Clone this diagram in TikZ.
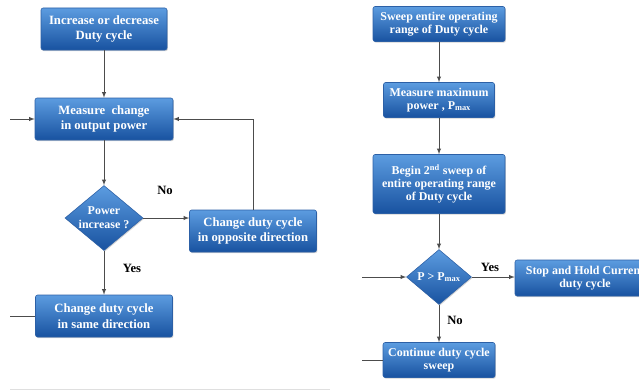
\documentclass[tikz,border=0pt]{standalone}
\usepackage{fontspec}
\setmainfont{Liberation Serif}
\usetikzlibrary{shapes.geometric,shadows}
\definecolor{boxtop}{RGB}{92,156,224}
\definecolor{boxbot}{RGB}{24,82,160}
\definecolor{boxedge}{RGB}{44,96,166}

\begin{document}
\begin{tikzpicture}[
    block/.style={rectangle, rounded corners=1.5pt, draw=boxedge, top color=boxtop, bottom color=boxbot, text=white, font=\fontsize{9}{11}\selectfont\bfseries, align=center, inner xsep=1pt, inner ysep=1pt, drop shadow={shadow xshift=0.6pt, shadow yshift=-0.8pt, opacity=0.35}},
    small/.style={font=\fontsize{8.5}{9.5}\selectfont\bfseries},
    decision/.style={diamond, draw=boxedge, top color=boxtop, bottom color=boxbot, inner sep=0pt, drop shadow={shadow xshift=0.6pt, shadow yshift=-0.8pt, opacity=0.35}},
    decision text/.style={text=white, font=\fontsize{8.5}{10}\selectfont\bfseries, align=center, inner sep=0pt},
    answer/.style={font=\fontsize{9}{11}\selectfont\bfseries},
    arrow/.style={->, >=latex, draw=black!70},
    wire/.style={draw=black!70}
]
    \useasboundingbox (0,0) rectangle (15.975,9.775);
    \clip (0,0) rectangle (15.975,9.775);

    % left chart
    \node[block, minimum width=3.15cm, minimum height=1.05cm] (inc) at (2.6,9.05) {Increase or decrease\\Duty cycle};
    \node[block, minimum width=3.45cm, minimum height=1.05cm] (meas) at (2.6,6.8) {Measure\ \ change\\in output power};
    \node[decision, minimum width=1.95cm, minimum height=1.625cm] (pinc) at (2.6,4.325) {};
    \node[decision text] (pinctxt) at (pinc) {Power\\increase ?};
    \node[block, minimum width=3.175cm, minimum height=1.05cm] (opp) at (6.325,4.0) {Change duty cycle\\in opposite direction};
    \node[block, minimum width=3.425cm, minimum height=1.05cm] (same) at (2.6,1.875) {Change duty cycle\\in same direction};
    \coordinate (lin) at (0.25,6.8);
    \coordinate (lout) at (0.25,1.875);

    \node[answer] (lno) at (4.125,5.025) {No};
    \node[answer] (lyes) at (3.3,3.075) {Yes};

    \draw[arrow] (inc) -- (meas);
    \draw[arrow] (lin) -- (meas);
    \draw[arrow] (meas) -- (pinc);
    \draw[arrow] (pinc.east) -- (pinc.east -| opp.west);
    \draw[arrow] (opp.north) |- (meas.east);
    \draw[arrow] (pinc) -- (same);
    \draw[wire] (same) -- (lout);

    % right chart
    \node[block, small, minimum width=3.3cm, minimum height=0.875cm] (sweep) at (10.975,9.175) {Sweep entire operating\\range of Duty cycle};
    \node[block, small, minimum width=2.775cm, minimum height=0.875cm] (pmax) at (10.975,7.275) {Measure maximum\\power , P\textsubscript{max}};
    \node[block, small, minimum width=3.3cm, minimum height=1.475cm] (begin) at (10.975,5.175) {Begin 2\textsuperscript{nd} sweep of\\entire operating range\\of Duty cycle};
    \node[decision, minimum width=1.625cm, minimum height=1.375cm] (pcmp) at (10.975,2.85) {};
    \node[decision text] (pcmptxt) at (pcmp) {P > P\textsubscript{max}};
    \node[block, small, minimum width=3.5cm, minimum height=0.9cm] (stop) at (14.625,2.825) {Stop and Hold Current\\duty cycle};
    \node[block, small, minimum width=2.8cm, minimum height=0.875cm] (cont) at (10.975,0.775) {Continue duty cycle\\sweep};
    \coordinate (rin) at (9.05,2.85);
    \coordinate (rout) at (9.05,0.775);

    \node[answer] (ryes) at (12.25,3.1) {Yes};
    \node[answer] (rno) at (11.375,1.775) {No};

    \draw[arrow] (sweep) -- (pmax);
    \draw[arrow] (pmax) -- (begin);
    \draw[arrow] (begin) -- (pcmp);
    \draw[arrow] (rin) -- (pcmp);
    \draw[arrow] (pcmp.east) -- (pcmp.east -| stop.west);
    \draw[arrow] (pcmp) -- (cont);
    \draw[wire] (cont) -- (rout);

    \draw[gray!25] (0.25,0.05) -- (8.25,0.05);
\end{tikzpicture}
\end{document}
